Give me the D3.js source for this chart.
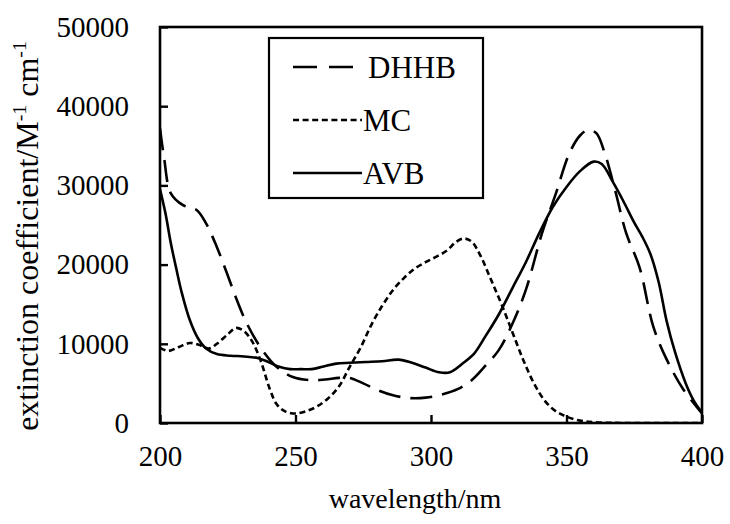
<!DOCTYPE html>
<html><head><meta charset="utf-8">
<script src="https://cdn.jsdelivr.net/npm/d3@7"></script>
<style>body{margin:0;background:#fff}svg{display:block}</style>
</head><body><svg id="c" width="730" height="524"></svg>
<script>
const dhhbWl = [200,201.5,204,208.5,213.5,217,221,224.7,228.4,232,237,243,249,256,261,266,270,275,280,286,292,298,304,310,315,320,325,330,335,341,346,351,355,358,361,364,368,372,377,382,387,393,400];
const dhhbV  = [37200,33500,29000,27500,26900,25200,22200,18900,15500,12600,9600,7100,5800,5400,5500,5700,5700,5000,4200,3500,3150,3200,3600,4300,5400,7200,9200,12500,16800,24000,28900,34000,36300,37000,36600,34200,29300,24000,19600,12200,8000,4300,1200];
const mcWl = [200,203,207,211,215,218,221,225,228,231,234,237,240.6,243,246,250,254,258,262,266,270,274,278,282,286,290,294,298,302,306,309,312,315,318,322,326,330,334,338,342,346,350,355,360,370,380,390,400];
const mcV  = [9500,9100,9600,10100,9800,9400,10000,11200,12000,11600,10300,8000,4200,2400,1500,1200,1500,2100,3100,4600,7100,9500,12400,14800,16800,18300,19500,20300,21000,21800,22800,23300,22900,21300,18200,15000,11500,8000,5000,2800,1500,800,300,100,0,0,0,0];
const avbWl = [200,202,204,206,208,211,214,217,221,226,231,236,240,244,248,252,256,260,265,270,276,282,288,293,298,303,307,312,316,320,325,330,335,340,345,350,355,360,363,367,371,375,378,381,384,387,390,394,397,400];
const avbV  = [29500,26500,22700,19500,16500,13000,10700,9400,8700,8500,8400,8200,7700,7100,6800,6800,6800,7100,7500,7600,7700,7800,8000,7600,7000,6400,6400,7600,8800,10900,13700,17000,20300,24000,27300,29800,31800,33000,32700,30500,28000,25300,23500,21300,17800,12800,9000,5000,2800,1300];
const seriesNames = ["DHHB","MC","AVB"];
const xTicks = [200,250,300,350,400];
const yTicks = [0,10000,20000,30000,40000,50000];
const xLabel = "wavelength/nm";

const svg = d3.select("#c");
const L=160,T=27,R=702,B=423;
const x = d3.scaleLinear().domain([200,400]).range([L,R]);
const y = d3.scaleLinear().domain([0,50000]).range([B,T]);
const FS = 29;
const FF = '"Liberation Serif","Times New Roman",Times,serif';

const styles = {DHHB:"22,10", MC:"6,3.6", AVB:null};
const data = {DHHB:[dhhbWl,dhhbV], MC:[mcWl,mcV], AVB:[avbWl,avbV]};

svg.append("defs").append("clipPath").attr("id","cp").append("rect").attr("x",L).attr("y",T-2).attr("width",R-L).attr("height",B-T+2);

const line = d3.line().x(d=>x(d[0])).y(d=>y(d[1])).curve(d3.curveCatmullRom.alpha(0.5));
const g = svg.append("g").attr("clip-path","url(#cp)");
seriesNames.forEach(n=>{
  const [w,v]=data[n];
  const p = g.append("path").datum(w.map((d,i)=>[d,v[i]])).attr("d",line)
    .attr("fill","none").attr("stroke","#000").attr("stroke-width",2.6);
  if(styles[n]) p.attr("stroke-dasharray",styles[n]);
});

svg.append("rect").attr("x",L).attr("y",T).attr("width",R-L).attr("height",B-T)
  .attr("fill","none").attr("stroke","#000").attr("stroke-width",2.6);

const xa = svg.append("g").attr("transform",`translate(0,${B})`)
  .call(d3.axisBottom(x).tickValues(xTicks).tickSizeInner(-8).tickSizeOuter(0).tickPadding(22).tickFormat(d3.format("d")));
const ya = svg.append("g").attr("transform",`translate(${L},0)`)
  .call(d3.axisLeft(y).tickValues(yTicks).tickSizeInner(-8).tickSizeOuter(0).tickPadding(31).tickFormat(d3.format("d")));
[xa,ya].forEach(a=>{
  a.select(".domain").remove();
  a.selectAll("line").attr("stroke","#000").attr("stroke-width",2.4);
  a.selectAll("text").style("font-size",FS+"px").style("font-family",FF).style("fill","#000");
});
xa.selectAll("text").attr("dy","0.71em");

svg.append("text").attr("x",415).attr("y",508).attr("text-anchor","middle")
  .style("font-size","28px").style("font-family",FF).text(xLabel);

const YF = 32;
const yl = svg.append("text").attr("transform","translate(38,236) rotate(-90)").attr("text-anchor","middle")
  .style("font-size",YF+"px").style("font-family",FF);
yl.append("tspan").text("extinction coefficient/M");
yl.append("tspan").style("font-size",(YF*0.62)+"px").attr("dy",-12).text("-1");
yl.append("tspan").attr("dy",12).text(" cm");
yl.append("tspan").style("font-size",(YF*0.62)+"px").attr("dy",-12).text("-1");

svg.append("rect").attr("x",269).attr("y",38).attr("width",214).attr("height",160)
  .attr("fill","#fff").attr("stroke","#000").attr("stroke-width",2.2);
const ly = [67,120,173];
const lx2 = {DHHB:355, MC:362, AVB:362};
seriesNames.forEach((n,i)=>{
  const l = svg.append("line").attr("x1",293).attr("x2",lx2[n]).attr("y1",ly[i]).attr("y2",ly[i])
    .attr("stroke","#000").attr("stroke-width",2.6);
  if(n==="DHHB") l.attr("stroke-dasharray","24,12");
  if(n==="MC") l.attr("stroke-dasharray","6,3.6");
  svg.append("text").attr("x", n==="DHHB"?368:363).attr("y",ly[i]).attr("dy","0.35em")
    .style("font-size","31px").style("font-family",FF).text(n);
});
</script></body></html>
